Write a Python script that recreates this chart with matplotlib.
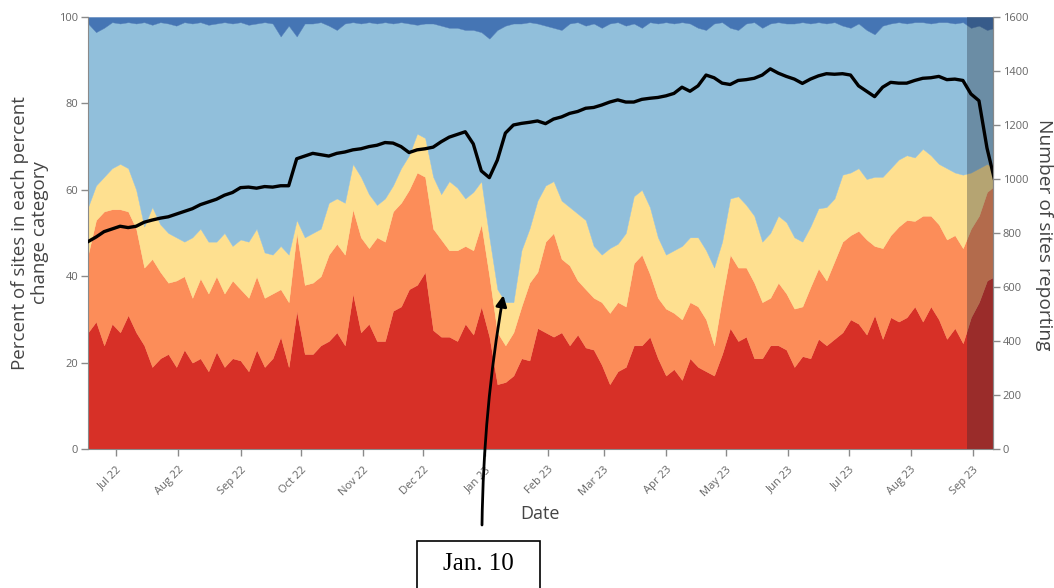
import matplotlib
matplotlib.use("Agg")
import matplotlib.pyplot as plt
import matplotlib.dates as mdates
from matplotlib.patches import Rectangle
import numpy as np
import pandas as pd

plt.rcParams['font.family'] = ['Open Sans', 'DejaVu Sans']

# ---- data (one sample every 4 days) ----
dates = pd.date_range('2022-06-17', periods=114, freq='4D')
x_start, x_end = '2022-06-17', '2023-09-11'
shade_start = '2023-08-29'
annot_date, annot_pct, annot_label = '2023-01-10', 35.6, 'Jan. 10'

red = [27, 29.5, 24, 29, 27, 31, 27, 24, 19, 21,
       22, 19, 23, 20, 21, 18, 22.5, 19, 21, 20.5,
       18, 23, 19, 21, 26, 19, 32, 22, 22, 24,
       25, 27, 24, 36, 27, 29, 25, 25, 32, 33,
       37, 38, 41, 27.5, 26, 26, 25, 29, 26.5, 33,
       26, 15, 15.5, 17, 21, 20.5, 28, 27, 26, 27,
       24, 26.5, 23.5, 23, 19.5, 15, 18, 19, 24, 24,
       26, 21, 17, 18.5, 16, 21, 19, 18, 17, 22,
       28, 25, 26, 21, 21, 24, 24, 23, 19, 21.5,
       21, 25.5, 24, 25.5, 27, 30, 29, 26.5, 31, 25.5,
       30.5, 29.5, 30.5, 33, 29.5, 33, 30, 25.5, 28, 24.5,
       30.5, 34, 39, 40]
orange = [18, 23.5, 31, 26.5, 28.5, 24, 24, 18, 25, 20,
          16.5, 20, 17, 15, 18.5, 18, 17.5, 17, 18, 16.5,
          17, 17, 16, 15, 11, 15, 18, 16, 16.5, 16,
          20, 20.5, 21, 19.5, 22, 17.5, 24, 23, 23, 24,
          23, 26, 22, 23.5, 22.5, 20, 21, 18, 19.5, 19,
          14, 12, 8.5, 10, 12, 18, 13, 21, 24, 17,
          18.5, 12.5, 13.5, 12, 14.5, 16.5, 16, 14, 19, 21,
          14.5, 14, 15.5, 13, 14, 13, 14, 12, 7, 13,
          17, 17, 16, 17.5, 13, 11, 14.5, 13, 13.5, 11.5,
          16.5, 16.3, 15, 18, 21, 19.5, 21.5, 22, 16, 21,
          19, 22, 22.5, 19.8, 24.5, 21, 22, 23, 21.5, 22,
          20.5, 20, 20.5, 21]
yellow = [11, 8, 8, 9.5, 10.5, 10, 9, 9.5, 12, 11,
          11.5, 10, 8, 14, 11.5, 12, 8, 14, 8, 11.5,
          13, 11, 10.5, 9, 10, 11, 3, 11, 11.5, 11,
          12, 10.5, 12, 10.5, 14, 12.5, 7.5, 10, 6, 8,
          8, 9, 9, 12, 10.5, 16, 14.5, 11, 13.5, 10,
          9, 10, 10, 7, 13, 12.5, 16.5, 13, 12, 13.5,
          13.5, 15.5, 16, 12, 11, 15, 13.5, 17, 15.5, 15,
          15.5, 14, 12.5, 14.5, 17, 15, 16, 16, 18, 13,
          13, 16.5, 14.5, 15.5, 14, 15, 15.5, 16.5, 16.5, 15,
          14, 13.9, 17, 14.5, 15.5, 14.5, 14.5, 14, 16, 16.5,
          15.5, 15.5, 15, 14.7, 15.5, 14, 14, 16.5, 14.5, 17,
          13, 11, 6.5, 4]
dark_blue = [1.5, 3.5, 2.5, 1.2, 1.5, 1.2, 1.5, 1.2, 1.8, 1.2,
             1.5, 2, 1.2, 1.5, 1.2, 1.8, 1.5, 1.2, 1.5, 1.2,
             1.8, 1.5, 1.2, 1.5, 4.5, 2, 4.5, 1.5, 1.5, 1.2,
             2, 3, 1.5, 1.2, 1.5, 1.2, 1.5, 1.2, 1.5, 1.2,
             1.5, 1.8, 1.5, 1.5, 2, 2.5, 2.5, 3, 3, 3.5,
             5, 3, 2, 1.5, 1.5, 1.2, 1.5, 2, 2.5, 3,
             1.5, 1.2, 2, 1.5, 2.5, 1.5, 1.2, 2, 1.5, 2.5,
             1.2, 1.5, 1.2, 1.5, 1.2, 1.5, 2.5, 3, 1.5, 1.2,
             2.5, 3, 1.5, 1.2, 2.5, 1.5, 1.2, 1.5, 1.5, 1.2,
             1.5, 1.2, 1.5, 1.2, 2, 2.5, 1.5, 3, 4, 2,
             1.5, 1.2, 1.5, 1.2, 1.2, 1.5, 1.2, 1.2, 1.5, 1.2,
             2.5, 2, 3, 2.5]
sites = [768, 785, 805, 815, 825, 820, 825, 840, 848, 855,
         860, 870, 880, 890, 905, 915, 925, 940, 950, 968,
         970, 966, 972, 970, 975, 975, 1075, 1085, 1095, 1090,
         1085, 1095, 1100, 1108, 1112, 1120, 1125, 1135, 1133, 1120,
         1098, 1108, 1112, 1118, 1138, 1155, 1165, 1175, 1130, 1030,
         1005, 1070, 1170, 1200, 1206, 1210, 1215, 1205, 1222, 1230,
         1243, 1250, 1262, 1265, 1274, 1285, 1293, 1285, 1285, 1295,
         1299, 1302, 1308, 1317, 1340, 1325, 1345, 1385, 1375, 1355,
         1350, 1365, 1368, 1373, 1385, 1408, 1392, 1380, 1370, 1354,
         1370, 1382, 1390, 1388, 1390, 1385, 1345, 1325, 1305, 1340,
         1358, 1355, 1355, 1365, 1373, 1375, 1380, 1368, 1370, 1365,
         1315, 1290, 1115, 990]

red = np.array(red, float)
orange = np.array(orange, float)
yellow = np.array(yellow, float)
dark_blue = np.array(dark_blue, float)
light_blue = 100 - red - orange - yellow - dark_blue

colors = ['#d73027', '#fc8d59', '#fee090', '#91bfdb', '#4575b4']
grey_txt = '#666666'
grey_axis = '#8a8a8a'

fig = plt.figure(figsize=(10.54, 5.88), dpi=100)
ax = fig.add_axes([88 / 1054, 1 - 449 / 588, 905 / 1054, 432 / 588])

ax.stackplot(dates, red, orange, yellow, light_blue, dark_blue,
             colors=colors, linewidth=0.3, edgecolor='face')
ax.set_xlim(pd.Timestamp(x_start), pd.Timestamp(x_end))
ax.set_ylim(0, 100)
ax.axvspan(pd.Timestamp(shade_start), pd.Timestamp(x_end),
           color='#1b2633', alpha=0.32, lw=0, zorder=3)

ax.set_yticks([0, 20, 40, 60, 80, 100])
ax.xaxis.set_major_locator(mdates.MonthLocator())
ax.xaxis.set_major_formatter(mdates.DateFormatter('%b %y'))
ax.tick_params(axis='both', colors=grey_axis, labelcolor=grey_txt,
               labelsize=8, length=5, width=1)
ax.tick_params(axis='x', pad=6)
ax.tick_params(axis='y', pad=2)
plt.setp(ax.get_xticklabels(), rotation=45, ha='right',
         rotation_mode='anchor', va='top')
ax.spines['top'].set_visible(False)
for s in ['left', 'bottom', 'right']:
    ax.spines[s].set_color(grey_axis)

ax2 = ax.twinx()
ax2.plot(dates, sites, color='black', lw=2.4, solid_joinstyle='round')
ax2.set_ylim(0, 1600)
ax2.set_xlim(pd.Timestamp(x_start), pd.Timestamp(x_end))
ax2.set_yticks(range(0, 1601, 200))
ax2.tick_params(axis='y', colors=grey_axis, labelcolor=grey_txt,
                labelsize=8, length=5, width=1, pad=2)
for s in ['top', 'left', 'bottom']:
    ax2.spines[s].set_visible(False)
ax2.spines['right'].set_color(grey_axis)

fig.text(30 / 1054, 1 - 233 / 588, 'Percent of sites in each percent\nchange category',
         rotation=90, ha='center', va='center', fontsize=13.5, color='#444444',
         linespacing=1.15, multialignment='center')
fig.text(1044 / 1054, 1 - 235 / 588, 'Number of sites reporting',
         rotation=270, ha='center', va='center', fontsize=13.8, color='#444444')
fig.text(540 / 1054, 1 - 514 / 588, 'Date', ha='center', va='center',
         fontsize=13, color='#444444')

# annotation box and arrow
fig.add_artist(Rectangle((417 / 1054, -5 / 588), 123 / 1054, 52 / 588,
                         transform=fig.transFigure, facecolor='white',
                         edgecolor='black', lw=1.2))
fig.text(478 / 1054, 24 / 588, annot_label, ha='center', va='center',
         fontsize=18, family='Liberation Serif', color='black')
ax.annotate('', xy=(pd.Timestamp(annot_date), annot_pct), xycoords='data',
            xytext=(482 / 1054, 63 / 588), textcoords='figure fraction',
            arrowprops=dict(arrowstyle='-|>', color='black', lw=2,
                            mutation_scale=16, shrinkA=0, shrinkB=0,
                            connectionstyle='arc3,rad=-0.04'),
            annotation_clip=False, zorder=6)

fig.savefig('out.png', dpi=100)
